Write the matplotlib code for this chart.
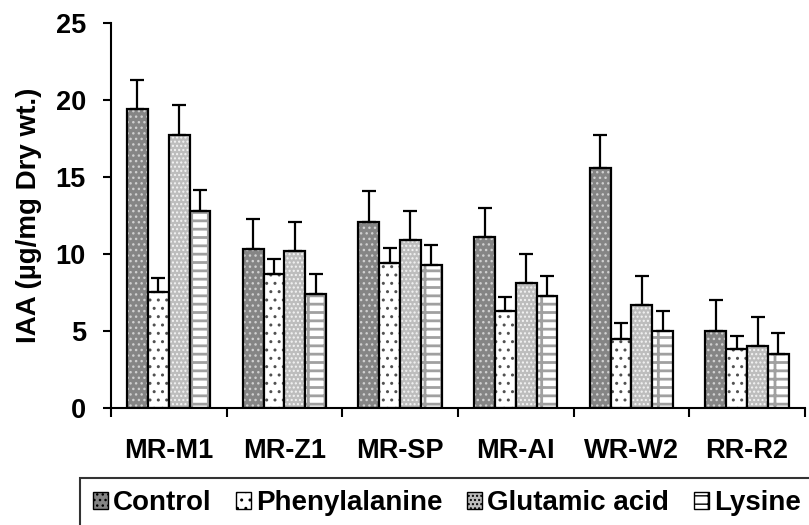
import numpy as np
import matplotlib.pyplot as plt
from matplotlib.patches import Patch

plt.rcParams['font.family'] = ['Liberation Sans', 'DejaVu Sans']
plt.rcParams['font.weight'] = 'bold'

strains = ["MR-M1", "MR-Z1", "MR-SP", "MR-AI", "WR-W2", "RR-R2"]
series = ["Control", "Phenylalanine", "Glutamic acid", "Lysine"]

control = [19.4, 10.3, 12.1, 11.1, 15.6, 5.0]
phenyl = [7.5, 8.7, 9.4, 6.3, 4.5, 3.8]
glutamic = [17.7, 10.2, 10.9, 8.1, 6.7, 4.0]
lysine = [12.8, 7.4, 9.3, 7.3, 5.0, 3.5]

control_err = [1.9, 2.0, 2.0, 1.9, 2.1, 2.0]
phenyl_err = [0.95, 0.95, 1.0, 0.9, 1.0, 0.85]
glutamic_err = [1.95, 1.9, 1.9, 1.9, 1.9, 1.9]
lysine_err = [1.35, 1.3, 1.3, 1.3, 1.3, 1.35]

values = [control, phenyl, glutamic, lysine]
errors = [control_err, phenyl_err, glutamic_err, lysine_err]

# fill, hatch colour, hatch pattern, hatch line width
faces = ['#858585', 'white', '#bdbdbd', 'white']
hatch_cols = ['#d0d0d0', '#505050', '#f4f4f4', '#a0a0a0']
hatches = ['...', '..', '....', '+-']
hatch_lw = [1.0, 1.0, 1.0, 2.0]

fig = plt.figure(figsize=(8.09, 5.25), dpi=100)
ax = fig.add_axes([0.137, 0.223, 0.858, 0.733])

x = np.arange(len(strains))
w = 0.18
for i in range(4):
    pos = x + (i - 1.5) * w
    ax.bar(pos, values[i], w, color=faces[i], edgecolor='none')
    hb = ax.bar(pos, values[i], w, fill=False, hatch=hatches[i], edgecolor=hatch_cols[i], linewidth=0)
    for p in hb:
        if hasattr(p, 'set_hatch_linewidth'):
            p.set_hatch_linewidth(hatch_lw[i])
    ax.bar(pos, values[i], w, fill=False, edgecolor='black', linewidth=1.6)
    ax.errorbar(pos, values[i], yerr=[np.zeros(6), errors[i]], fmt='none',
                ecolor='black', elinewidth=1.6, capsize=5, capthick=1.6)

ax.set_xlim(-0.5, 5.5)
ax.set_ylim(0, 25)
ax.set_yticks([0, 5, 10, 15, 20, 25])
ax.set_xticks(x)
ax.set_xticklabels(strains, fontsize=19.5, fontweight='bold')
ax.set_xticks(np.arange(-0.5, 6, 1), minor=True)
ax.tick_params(axis='x', which='major', length=0, pad=22)
ax.tick_params(axis='x', which='minor', length=6.5, width=1.5, direction='out')
ax.tick_params(axis='y', labelsize=19.5, length=6, width=1.5, pad=12)
for lab in ax.get_yticklabels():
    lab.set_fontweight('bold')
ax.set_ylabel("IAA (µg/mg Dry wt.)", fontsize=20, fontweight='bold', labelpad=10)

ax.spines['top'].set_visible(False)
ax.spines['right'].set_visible(False)
ax.spines['left'].set_linewidth(1.5)
ax.spines['bottom'].set_linewidth(1.5)

handles = []
for i in range(4):
    handles.append(Patch(facecolor=faces[i], edgecolor='black', hatch=hatches[i], linewidth=1))
leg = fig.legend(handles, series, loc='upper left', bbox_to_anchor=(80 / 809, 1 - 478 / 525), ncol=4,
                 frameon=True, fancybox=False, edgecolor='black', fontsize=20,
                 handlelength=0.55, handleheight=0.55, handletextpad=0.18, columnspacing=0.88,
                 borderpad=0.45, borderaxespad=0)
leg.get_frame().set_linewidth(1.5)
for t in leg.get_texts():
    t.set_fontweight('bold')

fig.savefig('out.png', dpi=100)
